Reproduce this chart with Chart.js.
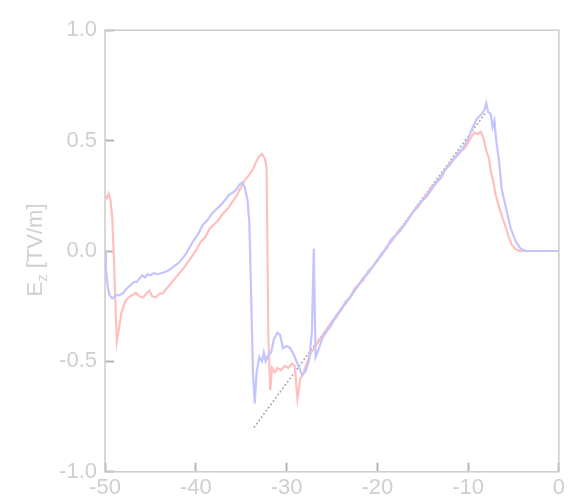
<!DOCTYPE html>
<html>
<head>
<meta charset="utf-8">
<script src="https://cdn.jsdelivr.net/npm/chart.js@4.4.1/dist/chart.umd.min.js"></script>
<style>
  html, body { margin: 0; padding: 0; background: #fff; }
</style>
</head>
<body>
<canvas id="myChart" width="577" height="502"></canvas>
<script>
// red curve: position (x) and field (y)
const redX = [-50.0, -49.8, -49.6, -49.4, -49.2, -49.0, -48.8, -48.7, -48.5, -48.2, -47.8, -47.4, -47.0, -46.6, -46.2,
  -45.8, -45.4, -45.1, -44.8, -44.4, -44.0, -43.6, -43.2, -42.8, -42.3, -41.8, -41.2, -40.7, -40.0, -39.5,
  -39.0, -38.5, -38.0, -37.5, -37.0, -36.5, -36.0, -35.5, -35.0, -34.6, -34.2, -33.7, -33.4, -33.0, -32.7,
  -32.4, -32.2, -32.0, -31.8, -31.6, -31.3, -31.0, -30.6, -30.2, -29.8, -29.4, -29.1, -28.8, -28.5, -28.2,
  -27.8, -27.3, -26.8, -26.0, -25.5, -25.0, -24.5, -24.0, -23.5, -23.0, -22.5, -22.0, -21.5, -21.0, -20.5,
  -20.0, -19.5, -19.0, -18.5, -18.0, -17.5, -17.0, -16.5, -16.0, -15.5, -15.0, -14.5, -14.0, -13.5, -13.0,
  -12.5, -12.0, -11.5, -11.0, -10.5, -10.0, -9.6, -9.3, -8.9, -8.6, -8.3, -8.0, -7.7, -7.5, -7.2,
  -7.0, -6.6, -6.2, -5.8, -5.5, -5.2, -4.8, -4.4, -3.0, 0.0];
const redY = [0.25, 0.24, 0.26, 0.23, 0.15, -0.05, -0.30, -0.41, -0.36, -0.28, -0.23, -0.21, -0.20, -0.19, -0.205,
  -0.21, -0.19, -0.18, -0.205, -0.21, -0.195, -0.19, -0.17, -0.15, -0.125, -0.10, -0.07, -0.04, 0.00, 0.04,
  0.06, 0.10, 0.12, 0.14, 0.17, 0.19, 0.22, 0.25, 0.29, 0.32, 0.34, 0.37, 0.40, 0.43, 0.44,
  0.42, 0.38, -0.40, -0.63, -0.53, -0.55, -0.53, -0.54, -0.52, -0.53, -0.51, -0.52, -0.67, -0.58, -0.56,
  -0.51, -0.46, -0.43, -0.38, -0.35, -0.32, -0.30, -0.26, -0.24, -0.21, -0.17, -0.15, -0.13, -0.09, -0.07,
  -0.04, -0.02, 0.02, 0.04, 0.07, 0.10, 0.12, 0.15, 0.18, 0.20, 0.23, 0.26, 0.29, 0.31, 0.34,
  0.37, 0.40, 0.42, 0.45, 0.46, 0.49, 0.52, 0.535, 0.53, 0.54, 0.51, 0.455, 0.42, 0.36, 0.31,
  0.26, 0.20, 0.15, 0.10, 0.06, 0.03, 0.01, 0.0, 0.0, 0.0];

// blue curve
const blueX = [-50.0, -49.9, -49.7, -49.5, -49.2, -48.8, -48.4, -48.0, -47.6, -47.2, -46.8, -46.5, -46.2, -45.9, -45.6,
  -45.3, -45.0, -44.6, -44.2, -43.8, -43.4, -42.9, -42.4, -41.8, -41.2, -40.7, -40.2, -39.7, -39.2, -38.7,
  -38.2, -37.7, -37.2, -36.8, -36.3, -35.9, -35.5, -35.2, -34.9, -34.6, -34.3, -34.1, -33.9, -33.7, -33.5,
  -33.3, -33.0, -32.7, -32.5, -32.3, -32.0, -31.7, -31.4, -31.0, -30.7, -30.4, -30.0, -29.6, -29.2, -28.7,
  -28.3, -27.9, -27.5, -27.2, -27.0, -26.8, -26.6, -26.0, -25.5, -25.0, -24.5, -24.0, -23.5, -23.0, -22.5,
  -22.0, -21.5, -21.0, -20.5, -20.0, -19.5, -19.0, -18.5, -18.0, -17.5, -17.0, -16.5, -16.0, -15.5, -15.0,
  -14.5, -14.0, -13.5, -13.0, -12.5, -12.0, -11.5, -11.0, -10.5, -10.0, -9.5, -9.0, -8.5, -8.2, -8.0,
  -7.8, -7.5, -7.3, -7.1, -6.9, -6.6, -6.3, -5.8, -5.3, -4.7, -4.2, -3.6, 0.0];
const blueY = [0.0, -0.08, -0.16, -0.20, -0.215, -0.20, -0.20, -0.19, -0.17, -0.155, -0.14, -0.14, -0.125, -0.11, -0.12,
  -0.105, -0.11, -0.10, -0.105, -0.10, -0.095, -0.085, -0.07, -0.05, -0.02, 0.015, 0.05, 0.08, 0.12, 0.14,
  0.17, 0.19, 0.21, 0.23, 0.255, 0.265, 0.28, 0.30, 0.31, 0.29, 0.23, 0.13, -0.20, -0.55, -0.69,
  -0.55, -0.48, -0.50, -0.46, -0.50, -0.47, -0.46, -0.40, -0.37, -0.38, -0.44, -0.43, -0.44, -0.47, -0.52,
  -0.56, -0.545, -0.49, -0.36, 0.01, -0.48, -0.46, -0.39, -0.36, -0.33, -0.29, -0.27, -0.23, -0.21, -0.18,
  -0.15, -0.12, -0.10, -0.07, -0.045, -0.01, 0.01, 0.05, 0.07, 0.09, 0.12, 0.15, 0.18, 0.21, 0.23,
  0.25, 0.28, 0.31, 0.33, 0.37, 0.39, 0.42, 0.44, 0.47, 0.51, 0.56, 0.60, 0.62, 0.64, 0.67,
  0.63, 0.62, 0.56, 0.59, 0.50, 0.41, 0.28, 0.19, 0.10, 0.04, 0.01, 0.0, 0.0];

// dotted reference line
const fitX = [-33.6, -8.0];
const fitY = [-0.80, 0.63];

const xTicks = [-50, -40, -30, -20, -10, 0];
const yTicks = [-1.0, -0.5, 0.0, 0.5, 1.0];

const axisColor = '#cccccc';
const labelColor = '#cfcfcf';

function pairs(xs, ys) {
    return xs.map((x, i) => ({ x: x, y: ys[i] }));
}

// box around the plot and the E_z title
const framePlugin = {
    id: 'frame',
    afterDraw(chart) {
        const c = chart.ctx;
        const a = chart.chartArea;
        c.save();
        c.setLineDash([]);
        c.strokeStyle = axisColor;
        c.lineWidth = 1.5;
        c.strokeRect(a.left, a.top, a.right - a.left, a.bottom - a.top);

        // y title with subscript
        c.fillStyle = labelColor;
        c.translate(42, 250);
        c.rotate(-Math.PI / 2);
        c.textBaseline = 'alphabetic';
        const big = '22px "Liberation Sans", Arial, sans-serif';
        const small = '15px "Liberation Sans", Arial, sans-serif';
        c.font = big;
        const wE = c.measureText('E').width;
        const rest = ' [TV/m]';
        const wR = c.measureText(rest).width;
        c.font = small;
        const wZ = c.measureText('z').width;
        const x0 = -(wE + wZ + wR) / 2;
        c.font = big;
        c.fillText('E', x0, 0);
        c.font = small;
        c.fillText('z', x0 + wE, 5);
        c.font = big;
        c.fillText(rest, x0 + wE + wZ, 0);
        c.restore();
    }
};

// negative tick length turns the library's tick marks inward
const innerGrid = {
    display: true,
    drawOnChartArea: false,
    drawTicks: true,
    tickLength: -9,
    tickColor: '#b4b4b4',
    tickWidth: 2,
    color: 'rgba(0,0,0,0)'
};

const ctx = document.getElementById('myChart').getContext('2d');
const myChart = new Chart(ctx, {
    type: 'scatter',
    data: {
        datasets: [{
            label: 'blue',
            data: pairs(blueX, blueY),
            showLine: true,
            borderColor: '#c4c4ff',
            borderWidth: 2.2,
            pointRadius: 0,
            order: 1
        }, {
            label: 'red',
            data: pairs(redX, redY),
            showLine: true,
            borderColor: '#ffbfbf',
            borderWidth: 2.2,
            pointRadius: 0,
            order: 2
        }, {
            label: 'fit',
            data: pairs(fitX, fitY),
            showLine: true,
            borderColor: '#a8a8a8',
            borderWidth: 1.5,
            borderDash: [2, 2],
            pointRadius: 0,
            order: 3
        }]
    },
    options: {
        responsive: false,
        animation: false,
        layout: { padding: { top: 28, right: 17, left: 0, bottom: 0 } },
        plugins: { legend: { display: false }, tooltip: { enabled: false } },
        scales: {
            x: {
                type: 'linear',
                min: -50,
                max: 0,
                afterBuildTicks: s => { s.ticks = xTicks.map(v => ({ value: v })); },
                afterFit: s => { s.height = 25; },
                grid: innerGrid,
                border: { display: false },
                ticks: {
                    color: labelColor,
                    padding: 12,
                    maxRotation: 0,
                    minRotation: 0,
                    autoSkip: false,
                    font: { family: '"Liberation Sans", Arial, sans-serif', size: 22 }
                }
            },
            y: {
                type: 'linear',
                min: -1,
                max: 1,
                afterBuildTicks: s => { s.ticks = yTicks.map(v => ({ value: v })); },
                afterFit: s => { s.width = 105; },
                grid: innerGrid,
                border: { display: false },
                ticks: {
                    color: labelColor,
                    padding: 17,
                    autoSkip: false,
                    callback: v => Number(v).toFixed(1),
                    font: { family: '"Liberation Sans", Arial, sans-serif', size: 22 }
                }
            }
        }
    },
    plugins: [framePlugin]
});
</script>
</body>
</html>
